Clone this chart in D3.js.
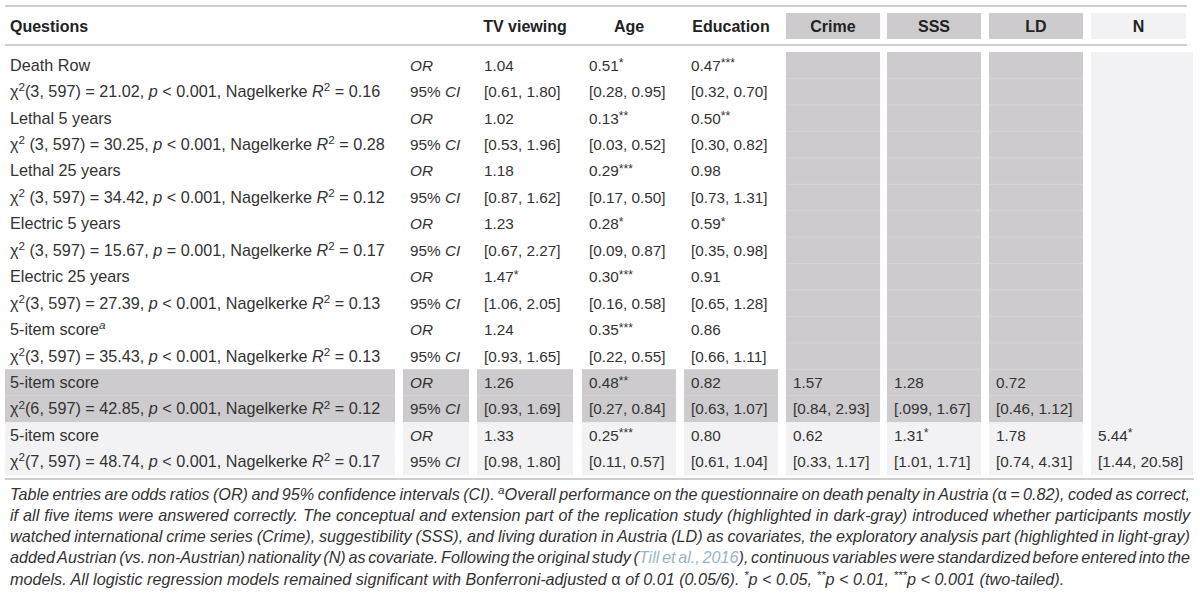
<!DOCTYPE html>
<html><head><meta charset="utf-8">
<script src="https://cdn.jsdelivr.net/npm/d3@7"></script>
<style>
html,body{margin:0;padding:0;background:#fff;}
svg{display:block;font-family:"Liberation Sans",Arial,sans-serif;}
</style></head>
<body><svg id="chart" width="1200" height="597"></svg>
<script>
// ---------- DATA ----------
const columns = ["Questions", "", "TV viewing", "Age", "Education", "Crime", "SSS", "LD", "N"];
const questions = ["Death Row", "Lethal 5 years", "Lethal 25 years", "Electric 5 years", "Electric 25 years", "5-item score", "5-item score", "5-item score"];
const questionNote = [false, false, false, false, false, true, false, false];
const chiDf = [3, 3, 3, 3, 3, 3, 6, 7];
const chiSpace = [false, true, true, true, false, false, false, false];
const chiValue = ["21.02", "30.25", "34.42", "15.67", "27.39", "35.43", "42.85", "48.74"];
const pText = ["< 0.001", "< 0.001", "< 0.001", "= 0.001", "< 0.001", "< 0.001", "< 0.001", "< 0.001"];
const r2Value = ["0.16", "0.28", "0.12", "0.17", "0.13", "0.13", "0.12", "0.17"];
const orTV = ["1.04", "1.02", "1.18", "1.23", "1.47*", "1.24", "1.26", "1.33"];
const ciTV = ["[0.61, 1.80]", "[0.53, 1.96]", "[0.87, 1.62]", "[0.67, 2.27]", "[1.06, 2.05]", "[0.93, 1.65]", "[0.93, 1.69]", "[0.98, 1.80]"];
const orAge = ["0.51*", "0.13**", "0.29***", "0.28*", "0.30***", "0.35***", "0.48**", "0.25***"];
const ciAge = ["[0.28, 0.95]", "[0.03, 0.52]", "[0.17, 0.50]", "[0.09, 0.87]", "[0.16, 0.58]", "[0.22, 0.55]", "[0.27, 0.84]", "[0.11, 0.57]"];
const orEdu = ["0.47***", "0.50**", "0.98", "0.59*", "0.91", "0.86", "0.82", "0.80"];
const ciEdu = ["[0.32, 0.70]", "[0.30, 0.82]", "[0.73, 1.31]", "[0.35, 0.98]", "[0.65, 1.28]", "[0.66, 1.11]", "[0.63, 1.07]", "[0.61, 1.04]"];
const orCrime = [null, null, null, null, null, null, "1.57", "0.62"];
const ciCrime = [null, null, null, null, null, null, "[0.84, 2.93]", "[0.33, 1.17]"];
const orSSS = [null, null, null, null, null, null, "1.28", "1.31*"];
const ciSSS = [null, null, null, null, null, null, "[.099, 1.67]", "[1.01, 1.71]"];
const orLD = [null, null, null, null, null, null, "0.72", "1.78"];
const ciLD = [null, null, null, null, null, null, "[0.46, 1.12]", "[0.74, 4.31]"];
const orN = [null, null, null, null, null, null, null, "5.44*"];
const ciN = [null, null, null, null, null, null, null, "[1.44, 20.58]"];
const modelShade = ["none", "none", "none", "none", "none", "none", "dark", "light"];
const footnoteLines = [
  [["Table entries are odds ratios (OR) and 95% confidence intervals (CI). "], ["a", "sup"], ["Overall performance on the questionnaire on death penalty in Austria ("], ["α", "up"], [" = 0.82), coded as correct,"]],
  [["if all five items were answered correctly. The conceptual and extension part of the replication study (highlighted in dark-gray) introduced whether participants mostly"]],
  [["watched international crime series (Crime), suggestibility (SSS), and living duration in Austria (LD) as covariates, the exploratory analysis part (highlighted in light-gray)"]],
  [["added Austrian (vs. non-Austrian) nationality (N) as covariate. Following the original study ("], ["Till et al., 2016", "link"], ["), continuous variables were standardized before entered into the"]],
  [["models. All logistic regression models remained significant with Bonferroni-adjusted "], ["α", "up"], [" of 0.01 (0.05/6). "], ["*", "sup"], ["p < 0.05, "], ["**", "sup"], ["p < 0.01, "], ["***", "sup"], ["p < 0.001 (two-tailed)."]]
];

// ---------- STYLE / LAYOUT ----------
const DARK = "#cdcbcd", LIGHT = "#f2f2f4", TEXT = "#333", RULE = "#cfcfcf";
const colKeys = d3.range(columns.length);
const colLeft = d3.scaleOrdinal().domain(colKeys).range([5, 403, 477, 582, 684, 786, 887, 989, 1091]);
const colRight = d3.scaleOrdinal().domain(colKeys).range([395, 469, 573, 676, 778, 880, 981, 1083, 1193]);
const rowY = d3.scaleBand().domain(d3.range(questions.length * 2)).range([52, 475]).paddingInner(0);
const PAD = 7;
const FS = 15.3;   // values
const FQ = 16.2;   // question column
const FH = 16;     // header
const FF = 16.2;   // footnote

const svg = d3.select("#chart");

function rich(g, x, y, segs, size, italicAll) {
  const t = g.append("text").attr("x", x).attr("y", y).attr("font-size", size).attr("fill", TEXT)
    .attr("font-style", italicAll ? "italic" : "normal");
  let shift = 0;
  segs.forEach(s => {
    const ts = t.append("tspan").text(s.t);
    if (s.i) ts.attr("font-style", "italic");
    if (s.up) ts.attr("font-style", "normal");
    if (s.color) ts.attr("fill", s.color);
    let want = 0;
    if (s.sup) { ts.attr("font-size", size * 0.72); want = -size * 0.36; }
    else if (s.star) { ts.attr("font-size", size * 0.8); want = -size * 0.22; }
    if (want !== shift) { ts.attr("dy", want - shift); shift = want; }
  });
  return t;
}
function valueSegs(v) {
  const m = v.match(/^(.*?)(\*+)$/);
  if (!m) return [{t: v}];
  return [{t: m[1]}, {t: m[2], star: true}];
}

// ---------- RULES ----------
svg.append("line").attr("x1", 5).attr("x2", 1187).attr("y1", 6).attr("y2", 6).attr("stroke", RULE).attr("stroke-width", 2);
svg.append("line").attr("x1", 5).attr("x2", 1187).attr("y1", 45).attr("y2", 45).attr("stroke", RULE).attr("stroke-width", 2);
svg.append("line").attr("x1", 5).attr("x2", 1194).attr("y1", 479).attr("y2", 479).attr("stroke", RULE).attr("stroke-width", 2);

// ---------- HEADER ----------
const head = svg.append("g");
colKeys.forEach(c => {
  const fill = c >= 5 && c <= 7 ? DARK : c === 8 ? LIGHT : null;
  const right = c === 8 ? 1186 : colRight(c);
  if (fill) head.append("rect").attr("x", colLeft(c)).attr("y", 13)
    .attr("width", right - colLeft(c)).attr("height", 26).attr("fill", fill);
  if (!columns[c]) return;
  const cx = c === 0 ? colLeft(c) + 5 : (colLeft(c) + right) / 2;
  head.append("text").attr("x", cx).attr("y", 31.5).attr("font-size", FH).attr("font-weight", "bold")
    .attr("fill", "#222").attr("text-anchor", c === 0 ? "start" : "middle").text(columns[c]);
});

// ---------- BODY BACKGROUNDS ----------
const body = svg.append("g");
const shadeFor = (model, c) => {
  const s = modelShade[model];
  if (s === "dark") return c === 8 ? LIGHT : DARK;
  if (s === "light") return LIGHT;
  if (c >= 5 && c <= 7) return DARK;
  if (c === 8) return LIGHT;
  return null;
};
d3.range(questions.length * 2).forEach(r => {
  const model = Math.floor(r / 2);
  colKeys.forEach(c => {
    const f = shadeFor(model, c);
    if (!f) return;
    body.append("rect").attr("x", colLeft(c)).attr("y", rowY(r))
      .attr("width", colRight(c) - colLeft(c)).attr("height", rowY.bandwidth() + 0.5).attr("fill", f);
    if (r > 0 && (f === DARK) && shadeFor(Math.floor((r - 1) / 2), c) === DARK)
      body.append("line").attr("x1", colLeft(c)).attr("x2", colRight(c)).attr("y1", rowY(r)).attr("y2", rowY(r))
        .attr("stroke", "#d6d4d6").attr("stroke-width", 1);
  });
});

// ---------- BODY TEXT ----------
const orCols = [orTV, orAge, orEdu, orCrime, orSSS, orLD, orN];
const ciCols = [ciTV, ciAge, ciEdu, ciCrime, ciSSS, ciLD, ciN];
questions.forEach((q, i) => {
  const y1 = rowY(2 * i) + rowY.bandwidth() / 2 + 5.5;
  const y2 = rowY(2 * i + 1) + rowY.bandwidth() / 2 + 5.5;
  const qs = [{t: q}];
  if (questionNote[i]) qs.push({t: "a", sup: true, i: true});
  rich(body, colLeft(0) + 5, y1, qs, FQ, false);
  rich(body, colLeft(0) + 5, y2, [
    {t: "χ"}, {t: "2", sup: true},
    {t: (chiSpace[i] ? " " : "") + "(" + chiDf[i] + ", 597) = " + chiValue[i] + ", "},
    {t: "p", i: true}, {t: " " + pText[i] + ", Nagelkerke "},
    {t: "R", i: true}, {t: "2", sup: true}, {t: " = " + r2Value[i]}
  ], FQ, false);
  rich(body, colLeft(1) + PAD, y1, [{t: "OR", i: true}], FS, false);
  rich(body, colLeft(1) + PAD, y2, [{t: "95% "}, {t: "CI", i: true}], FS, false);
  orCols.forEach((arr, k) => {
    const c = k + 2;
    if (arr[i]) rich(body, colLeft(c) + PAD, y1, valueSegs(arr[i]), FS, false);
    if (ciCols[k][i]) rich(body, colLeft(c) + PAD, y2, [{t: ciCols[k][i]}], FS, false);
  });
});

// ---------- FOOTNOTE ----------
const foot = svg.append("g");
const footTop = 499.5, footStep = 21.3, footLeft = 10, footRight = 1190;
footnoteLines.forEach((line, li) => {
  const segs = line.map(([t, kind]) => ({t, sup: kind === "sup", up: kind === "up", color: kind === "link" ? "#9db4c6" : null}));
  const t = rich(foot, footLeft, footTop + li * footStep, segs, FF, true);
  if (li < footnoteLines.length - 1) {
    const natural = t.node().getComputedTextLength();
    const spaces = line.map(d => d[0]).join("").split(" ").length - 1;
    if (spaces > 0) t.attr("word-spacing", (footRight - footLeft - natural) / spaces);
  }
});
</script></body></html>
